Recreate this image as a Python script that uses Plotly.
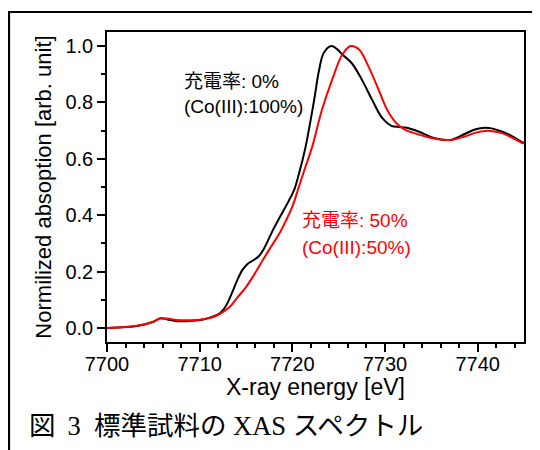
import plotly.graph_objects as go

# ---- data ----
energy_0 = [7700, 7702, 7703, 7704, 7705, 7705.8, 7706.5, 7707.5, 7708.5, 7709.6,
            7710.5, 7711.4, 7712.0, 7712.5, 7713.0, 7713.5, 7714.0, 7714.6, 7715.2,
            7715.8, 7716.4, 7717.0, 7717.8, 7718.6, 7719.6, 7720.2, 7720.7, 7721.4,
            7722.3, 7722.9, 7723.4, 7724.2, 7724.8, 7725.4, 7726.4, 7727.5, 7728.6,
            7729.7, 7730.7, 7731.5, 7732.2, 7733.6, 7735.0, 7736.2, 7737.2, 7738.6,
            7739.8, 7740.8, 7741.5, 7742.6, 7743.6, 7744.7, 7745]
absorb_0 = [0.0, 0.003, 0.006, 0.012, 0.022, 0.034, 0.030, 0.024, 0.024, 0.026,
            0.031, 0.040, 0.048, 0.062, 0.088, 0.125, 0.165, 0.205, 0.228,
            0.240, 0.255, 0.285, 0.340, 0.390, 0.450, 0.490, 0.545, 0.638,
            0.798, 0.917, 0.976, 1.0, 0.99, 0.97, 0.94, 0.881, 0.81,
            0.745, 0.717, 0.713, 0.711, 0.697, 0.677, 0.668, 0.668, 0.688,
            0.705, 0.710, 0.708, 0.697, 0.682, 0.661, 0.657]

energy_50 = [7700, 7702, 7703, 7704, 7705, 7705.8, 7706.5, 7707.5, 7708.5, 7709.6,
             7710.5, 7711.4, 7712.2, 7713.2, 7714.0, 7715.0, 7715.9, 7716.8, 7717.7,
             7718.6, 7719.3, 7720.0, 7720.7, 7721.4, 7722.1, 7723.2, 7724.3, 7725.4,
             7726.3, 7727.2, 7728.2, 7729.3, 7730.3, 7731.4, 7732.2, 7732.9, 7735.0,
             7736.2, 7737.2, 7738.6, 7739.8, 7740.8, 7741.6, 7742.6, 7743.6, 7744.7, 7745]
absorb_50 = [0.0, 0.003, 0.007, 0.012, 0.022, 0.034, 0.033, 0.028, 0.027, 0.028,
             0.032, 0.038, 0.050, 0.073, 0.105, 0.145, 0.190, 0.240, 0.288,
             0.335, 0.380, 0.430, 0.500, 0.570, 0.638, 0.774, 0.881, 0.970,
             1.0, 0.988, 0.929, 0.846, 0.770, 0.721, 0.703, 0.694, 0.674,
             0.668, 0.667, 0.679, 0.693, 0.699, 0.698, 0.691, 0.677, 0.658, 0.654]

x_ticks = [7700, 7710, 7720, 7730, 7740]
y_ticks = [0.0, 0.2, 0.4, 0.6, 0.8, 1.0]

label_0 = ["充電率: 0%", "(Co(III):100%)"]
label_50 = ["充電率: 50%", "(Co(III):50%)"]
x_title = "X-ray energy [eV]"
y_title = "Normilized absoption [arb. unit]"
caption = "図\u00a0\u20093\u00a0\u00a0標準試料の XAS スペクトル"

SANS = "Liberation Sans, Arial, Noto Sans CJK JP"
SERIF = "Liberation Serif, Times New Roman, Noto Sans CJK JP"

fig = go.Figure()
fig.add_trace(go.Scatter(x=energy_0, y=absorb_0, mode="lines", line_shape="spline",
                         line=dict(color="black", width=2), showlegend=False))
fig.add_trace(go.Scatter(x=energy_50, y=absorb_50, mode="lines", line_shape="spline",
                         line=dict(color="#ff0000", width=2), showlegend=False))

# text labels
for i, t in enumerate(label_0):
    fig.add_annotation(x=7708.1, y=[0.875, 0.784][i], text=t, showarrow=False,
                       xanchor="left", yanchor="middle",
                       font=dict(family=SANS, size=19, color="black"))
for i, t in enumerate(label_50):
    fig.add_annotation(x=7720.8, y=[0.382, 0.287][i], text=t, showarrow=False,
                       xanchor="left", yanchor="middle",
                       font=dict(family=SANS, size=19, color="#ff0000"))

# x-axis title
fig.add_annotation(xref="paper", yref="paper", x=0.5, y=-0.146, text=x_title,
                   showarrow=False, xanchor="center", yanchor="middle",
                   font=dict(family=SANS, size=23, color="black"))

# caption
fig.add_annotation(xref="paper", yref="paper", x=-0.193, y=-0.271, text=caption,
                   showarrow=False, xanchor="left", yanchor="middle",
                   font=dict(family=SERIF, size=26.5, color="black"))

# outer frame (extends past right and bottom edges)
fig.add_shape(type="rect", xref="paper", yref="paper",
              x0=-0.235, x1=1.1, y0=-0.6, y1=1.0645,
              line=dict(color="black", width=2.2), fillcolor="rgba(0,0,0,0)")

axis_common = dict(showline=True, mirror=True, linecolor="black", linewidth=1.5,
                   ticks="outside", ticklen=8, tickwidth=1.5, tickcolor="black",
                   showgrid=False, zeroline=False,
                   tickfont=dict(family=SANS, size=20, color="black"))

fig.update_xaxes(range=[7700, 7745], tickvals=x_ticks, ticklabelstandoff=-5,
                 minor=dict(dtick=2, tick0=7700, ticks="outside", ticklen=4,
                            tickwidth=1.5, tickcolor="black"),
                 **axis_common)
fig.update_yaxes(range=[-0.05, 1.05], tickvals=y_ticks, tickformat=".1f",
                 minor=dict(dtick=0.1, tick0=0, ticks="outside", ticklen=4,
                            tickwidth=1.5, tickcolor="black"),
                 title=dict(text=y_title, standoff=8,
                            font=dict(family=SANS, size=22, color="black")),
                 **axis_common)

fig.update_layout(width=540, height=450, paper_bgcolor="white", plot_bgcolor="white",
                  margin=dict(l=99, r=24, t=24, b=116, autoexpand=False),
                  font=dict(family=SANS, color="black"))

fig.write_html("out.html")
